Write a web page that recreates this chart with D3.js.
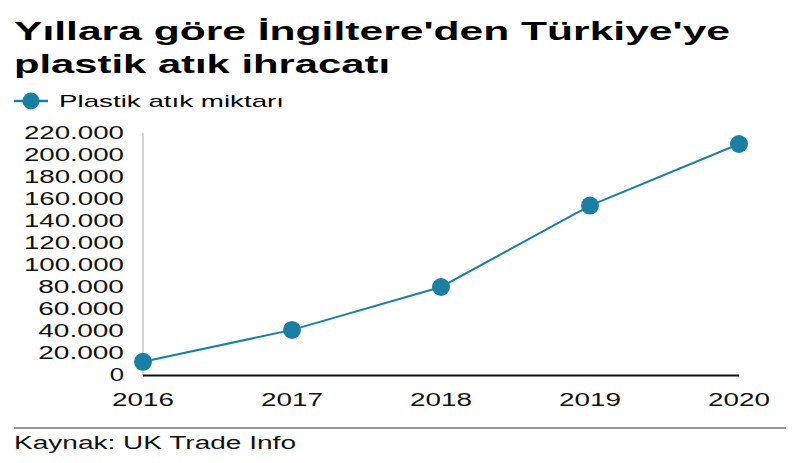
<!DOCTYPE html><html><head><meta charset="utf-8"><script src="https://cdn.jsdelivr.net/npm/d3@7"></script>
<style>body{margin:0;background:#fff}svg{font-family:"Liberation Sans",Arial,sans-serif}</style></head><body>
<svg id="c" width="800" height="463"></svg>
<script>
const years=["2016","2017","2018","2019","2020"];
const values=[12000,41000,80000,154000,210000];
const yTicks=[0,20000,40000,60000,80000,100000,120000,140000,160000,180000,200000,220000];
const color="#1b7fa3";
const svg=d3.select("#c");
const x=d3.scalePoint().domain(years).range([143,739]);
const y=d3.scaleLinear().domain([0,220000]).range([375,133]);
const fmt=d=>d3.format(",")(d).replace(/,/g,".");
function wide(sel,s){return sel;}
svg.append("text").attr("x",14).attr("y",40).attr("font-size",25).attr("font-weight","bold").attr("textLength",716).attr("lengthAdjust","spacingAndGlyphs").text("Yıllara göre İngiltere'den Türkiye'ye");
svg.append("text").attr("x",14).attr("y",73).attr("font-size",25).attr("font-weight","bold").attr("textLength",376).attr("lengthAdjust","spacingAndGlyphs").text("plastik atık ihracatı");
svg.append("line").attr("x1",14).attr("x2",48).attr("y1",101).attr("y2",101).attr("stroke",color).attr("stroke-width",2.5);
svg.append("circle").attr("cx",31).attr("cy",101).attr("r",8.5).attr("fill",color);
svg.append("text").attr("x",59).attr("y",107).attr("font-size",17).attr("textLength",225).attr("lengthAdjust","spacingAndGlyphs").text("Plastik atık miktarı");
svg.append("line").attr("x1",143).attr("x2",143).attr("y1",133).attr("y2",375).attr("stroke","#aaa");
svg.selectAll(".yt").data(yTicks).join("text").attr("x",124).attr("y",d=>y(d)+6).attr("text-anchor","end").attr("font-size",18).attr("fill","#111")
 .attr("textLength",d=>fmt(d).length*14.3).attr("lengthAdjust","spacingAndGlyphs").text(fmt);
svg.append("line").attr("x1",143).attr("x2",739).attr("y1",375.5).attr("y2",375.5).attr("stroke","#111").attr("stroke-width",2);
svg.selectAll(".xt").data(years).join("text").attr("x",d=>x(d)).attr("y",406).attr("text-anchor","middle").attr("font-size",18).attr("fill","#111")
 .attr("textLength",62).attr("lengthAdjust","spacingAndGlyphs").text(d=>d);
const data=years.map((d,i)=>({year:d,v:values[i]}));
svg.append("path").datum(data).attr("fill","none").attr("stroke",color).attr("stroke-width",2)
 .attr("d",d3.line().x(d=>x(d.year)).y(d=>y(d.v)));
svg.selectAll(".pt").data(data).join("circle").attr("cx",d=>x(d.year)).attr("cy",d=>y(d.v)).attr("r",9).attr("fill",color);
svg.append("line").attr("x1",14).attr("x2",786).attr("y1",428).attr("y2",428).attr("stroke","#777").attr("stroke-width",1.5);
svg.append("text").attr("x",14).attr("y",449).attr("font-size",18).attr("fill","#111").attr("textLength",282).attr("lengthAdjust","spacingAndGlyphs").text("Kaynak: UK Trade Info");
</script></body></html>
